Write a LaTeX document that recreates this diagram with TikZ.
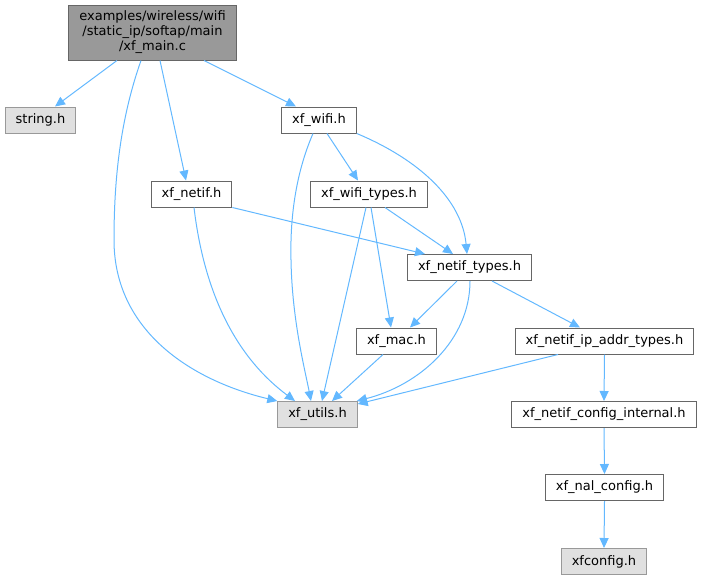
\documentclass[tikz,border=0pt]{standalone}
\usepackage{fontspec}
\setmainfont{DejaVu Sans}
\usetikzlibrary{arrows.meta}

\definecolor{edgeblue}{HTML}{63B8FF}
\definecolor{boxline}{HTML}{666666}
\definecolor{sysline}{HTML}{999999}
\definecolor{sysfill}{HTML}{E0E0E0}
\definecolor{mainfill}{HTML}{999999}

\tikzset{
  file/.style={draw=boxline, fill=white, line width=1pt, inner xsep=10.5pt,
    minimum height=26pt, font=\fontsize{13}{15}\selectfont},
  sysfile/.style={file, draw=sysline, fill=sysfill},
  topfile/.style={file, fill=mainfill, align=center, minimum height=55pt},
  inc/.style={draw=edgeblue, line width=1pt, -{Triangle[length=10pt,width=9pt]}},
}

\begin{document}
\begin{tikzpicture}[x=1pt,y=-1pt]
%\draw[step=20,gray,very thin] (0,0) grid (703,579); %background grid
\useasboundingbox (0,0) rectangle (703,579);

\node[topfile] (main) at (152.5,32.5) {examples/wireless/wifi\\/static\_ip/softap/main\\/xf\_main.c};

\node[sysfile] (string) at (40.5,120) {string.h};
\node[file] (wifi) at (319,120) {xf\_wifi.h};

\node[file] (netif) at (191.5,194) {xf\_netif.h};
\node[file] (wifitypes) at (369,194) {xf\_wifi\_types.h};

\node[file] (netiftypes) at (469.5,267.5) {xf\_netif\_types.h};

\node[file] (mac) at (396.5,341) {xf\_mac.h};
\node[file] (ipaddr) at (604.5,341) {xf\_netif\_ip\_addr\_types.h};

\node[sysfile] (utils) at (317.5,414.5) {xf\_utils.h};
\node[file] (cfgint) at (604,414.5) {xf\_netif\_config\_internal.h};

\node[file] (nal) at (604.5,487.5) {xf\_nal\_config.h};

\node[sysfile] (xfconfig) at (604,561.5) {xfconfig.h};

% includes of xf_main.c
\draw[inc] ([xshift=-35.5]main.south) -- ([xshift=14.5]string.north);
\draw[inc] ([xshift=-11.5]main.south) .. controls (120,120) and (114,180) .. (114,240)
  .. controls (114,330) and (190,380) .. (utils.north west);
\draw[inc] ([xshift=7.5]main.south) -- ([xshift=-5.5]netif.north);
\draw[inc] ([xshift=51.5]main.south) -- ([xshift=-23]wifi.north);

% xf_wifi.h
\draw[inc] ([xshift=-6]wifi.south) .. controls (295,175) and (290,220) .. (291,260)
  .. controls (292,320) and (305,370) .. ([xshift=-6.5]utils.north);
\draw[inc] ([xshift=8]wifi.south) -- ([xshift=-11]wifitypes.north);
\draw[inc] (wifi.south east) .. controls (420,160) and (462,200) .. ([xshift=-2.5]netiftypes.north);

% xf_netif.h
\draw[inc] ([xshift=2.5]netif.south) .. controls (205,300) and (240,360) .. ([xshift=-22.5]utils.north);
\draw[inc] (netif.south east) -- ([xshift=-44.5]netiftypes.north);

% xf_wifi_types.h
\draw[inc] ([xshift=-3]wifitypes.south) -- ([xshift=4.5]utils.north);
\draw[inc] ([xshift=2]wifitypes.south) -- ([xshift=-5.5]mac.north);
\draw[inc] ([xshift=16]wifitypes.south) -- ([xshift=-16.5]netiftypes.north);

% xf_netif_types.h
\draw[inc] ([xshift=-12.5]netiftypes.south) -- ([xshift=13.5]mac.north);
\draw[inc] ([xshift=0.5]netiftypes.south) .. controls (470,340) and (420,385) .. ([xshift=-1]utils.north east);
\draw[inc] ([xshift=22.5]netiftypes.south) -- ([xshift=-24.5]ipaddr.north);

% the rest
\draw[inc] ([xshift=-13.5]mac.south) -- ([xshift=14.5]utils.north);
\draw[inc] ([xshift=-46.5]ipaddr.south) -- ([yshift=-3]utils.north east);
\draw[inc] (ipaddr.south) -- (cfgint.north);
\draw[inc] (cfgint.south) -- (nal.north);
\draw[inc] (nal.south) -- (xfconfig.north);

\end{tikzpicture}
\end{document}
